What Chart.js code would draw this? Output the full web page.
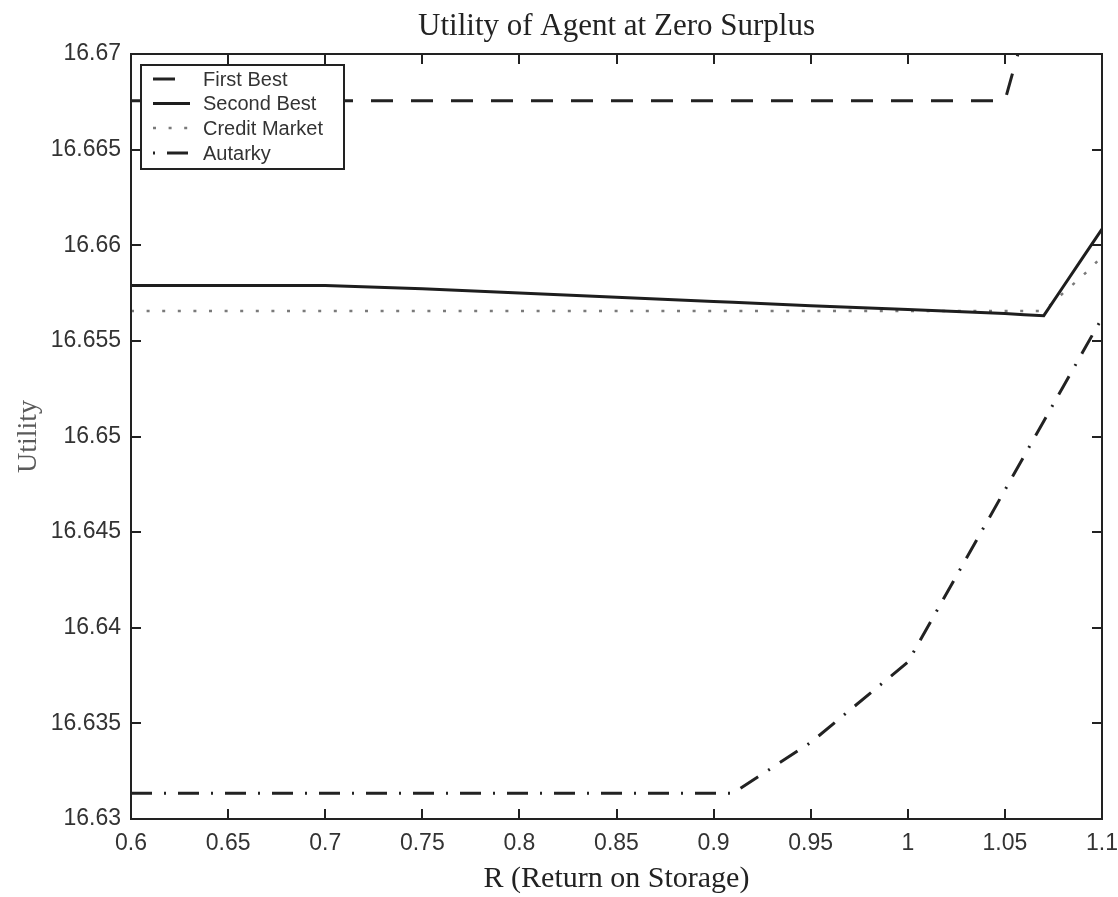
<!DOCTYPE html>
<html>
<head>
<meta charset="utf-8">
<title>Utility of Agent at Zero Surplus</title>
<script src="https://cdn.jsdelivr.net/npm/chart.js@4.4.1/dist/chart.umd.min.js"></script>
<style>
  html, body { margin: 0; padding: 0; background: #fff; }
  canvas { display: block; }
</style>
</head>
<body>
<canvas id="chartUtility" width="1118" height="897"></canvas>
<script>
// R (return on storage) grid, shared by all series
const rValues = [0.6, 0.65, 0.7, 0.75, 0.8, 0.85, 0.9, 0.91, 0.95, 1.0, 1.05, 1.06, 1.07, 1.08, 1.09, 1.1];

// utility values
const firstBest    = [16.66756, 16.66756, 16.66756, 16.66756, 16.66756, 16.66756, 16.66756, 16.66756, 16.66756, 16.66756, 16.66756, 16.6712, null, null, null, null];
const secondBest   = [16.6579, 16.6579, 16.6579, 16.65772, 16.6575, 16.65728, 16.65706, 16.65702, 16.65684, 16.65664, 16.65643, 16.65637, 16.65632, 16.65783, 16.65934, 16.66085];
const creditMarket = [16.65656, 16.65656, 16.65656, 16.65656, 16.65656, 16.65656, 16.65656, 16.65656, 16.65656, 16.65656, 16.65656, 16.65656, 16.65656, 16.6575, 16.6584, 16.6594];
const autarky      = [16.63135, 16.63135, 16.63135, 16.63135, 16.63135, 16.63135, 16.63135, 16.63135, 16.634, 16.6382, 16.6472, 16.649, 16.6508, 16.6526, 16.6544, 16.6562];

const seriesNames = ['First Best', 'Second Best', 'Credit Market', 'Autarky'];
const chartTitle = 'Utility of Agent at Zero Surplus';

const xTicks = { min: 0.6, max: 1.1, step: 0.05 };
const yTicks = { min: 16.63, max: 16.67, step: 0.005 };

function toPoints(values) {
    return rValues.map((r, i) => ({ x: r, y: values[i] }));
}

// box round the plot + inward ticks on all four sides (matlab style), title over the plot
const boxPlugin = {
    id: 'boxTicks',
    afterDatasetsDraw(chart) {
        const { ctx, chartArea: a, scales } = chart;
        const len = 10;
        ctx.save();
        ctx.strokeStyle = '#222';
        ctx.lineWidth = 2;
        scales.x.ticks.forEach(t => {
            const px = Math.round(scales.x.getPixelForValue(t.value));
            ctx.beginPath();
            ctx.moveTo(px, a.bottom); ctx.lineTo(px, a.bottom - len);
            ctx.moveTo(px, a.top); ctx.lineTo(px, a.top + len);
            ctx.stroke();
        });
        scales.y.ticks.forEach(t => {
            const py = Math.round(scales.y.getPixelForValue(t.value));
            ctx.beginPath();
            ctx.moveTo(a.left, py); ctx.lineTo(a.left + len, py);
            ctx.moveTo(a.right, py); ctx.lineTo(a.right - len, py);
            ctx.stroke();
        });
        ctx.strokeRect(a.left, a.top, a.right - a.left, a.bottom - a.top);

        ctx.fillStyle = '#222';
        ctx.font = '31px "Liberation Serif", "Times New Roman", serif';
        ctx.textAlign = 'center';
        ctx.textBaseline = 'middle';
        ctx.fillText(chartTitle, (a.left + a.right) / 2, 27);
        ctx.restore();
    }
};

// legend in a framed box in the upper left corner
const boxLegend = {
    id: 'boxLegend',
    afterDraw(chart) {
        const { ctx } = chart;
        const x0 = 141, y0 = 65, w = 203, h = 104;
        const rowY = [79, 103.5, 128, 153];
        ctx.save();
        ctx.fillStyle = '#fff';
        ctx.fillRect(x0, y0, w, h);
        ctx.strokeStyle = '#222';
        ctx.lineWidth = 2;
        ctx.strokeRect(x0, y0, w, h);
        chart.data.datasets.forEach((ds, i) => {
            const y = rowY[i];
            ctx.beginPath();
            ctx.setLineDash(ds.borderDash || []);
            ctx.lineDashOffset = ds.legendDashOffset || 0;
            ctx.strokeStyle = ds.borderColor;
            ctx.lineWidth = ds.borderWidth;
            ctx.moveTo(153, y);
            ctx.lineTo(190, y);
            ctx.stroke();
            ctx.setLineDash([]);
            ctx.fillStyle = '#333';
            ctx.font = '20px "Liberation Sans", Arial, sans-serif';
            ctx.textBaseline = 'middle';
            ctx.fillText(ds.label, 203, y + 1);
        });
        ctx.restore();
    }
};

const ctx = document.getElementById('chartUtility').getContext('2d');
const chartUtility = new Chart(ctx, {
    type: 'line',
    data: {
        datasets: [{
            label: seriesNames[0],
            data: toPoints(firstBest),
            borderColor: '#222',
            borderWidth: 3,
            borderDash: [22, 18],
            spanGaps: false
        },
        {
            label: seriesNames[1],
            data: toPoints(secondBest),
            borderColor: '#1e1e1e',
            borderWidth: 3
        },
        {
            label: seriesNames[2],
            data: toPoints(creditMarket),
            borderColor: '#7a7a7a',
            borderWidth: 2.5,
            borderDash: [3, 12.6]
        },
        {
            label: seriesNames[3],
            data: toPoints(autarky),
            borderColor: '#222',
            borderWidth: 3,
            borderDash: [21, 12, 2, 12],
            legendDashOffset: 33
        }]
    },
    options: {
        responsive: false,
        animation: false,
        devicePixelRatio: 1,
        elements: {
            line: { tension: 0, fill: false, borderCapStyle: 'butt' },
            point: { radius: 0, hoverRadius: 0 }
        },
        layout: { padding: { left: 0, right: 16, top: 54, bottom: 0 } },
        plugins: {
            legend: { display: false },
            tooltip: { enabled: false },
            title: { display: false }
        },
        scales: {
            x: {
                type: 'linear',
                min: xTicks.min,
                max: xTicks.max,
                grid: { display: false, drawTicks: false },
                border: { display: false },
                ticks: {
                    stepSize: xTicks.step,
                    color: '#333',
                    padding: 11,
                    maxRotation: 0,
                    font: { family: '"Liberation Sans", Arial, sans-serif', size: 23 },
                    callback: v => String(Number(v.toFixed(2)))
                },
                title: {
                    display: true,
                    text: 'R (Return on Storage)',
                    color: '#222',
                    font: { family: '"Liberation Serif", "Times New Roman", serif', size: 30 },
                    padding: { top: 0, bottom: 0 }
                },
                afterFit: s => { s.height = 78; s.paddingRight = 16; s.paddingLeft = 0; }
            },
            y: {
                type: 'linear',
                min: yTicks.min,
                max: yTicks.max,
                grid: { display: false, drawTicks: false },
                border: { display: false },
                ticks: {
                    stepSize: yTicks.step,
                    color: '#333',
                    padding: 10,
                    font: { family: '"Liberation Sans", Arial, sans-serif', size: 23 },
                    callback: v => String(Number(v.toFixed(3)))
                },
                title: {
                    display: true,
                    text: 'Utility',
                    color: '#5a5a5a',
                    font: { family: '"Liberation Serif", "Times New Roman", serif', size: 28 },
                    padding: { top: 12, bottom: 0 }
                },
                afterFit: s => { s.width = 131; s.paddingTop = 0; s.paddingBottom = 0; }
            }
        }
    },
    plugins: [boxPlugin, boxLegend]
});
</script>
</body>
</html>
